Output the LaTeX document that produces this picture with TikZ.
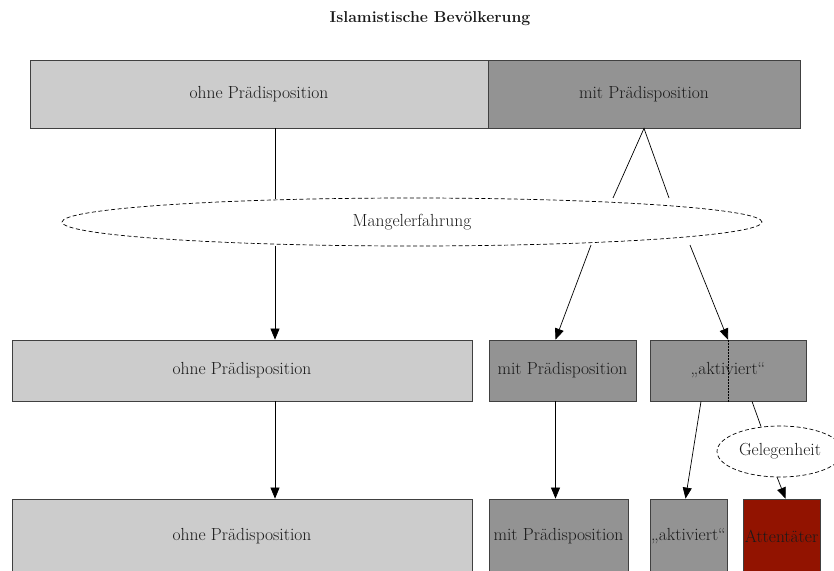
\documentclass[tikz,border=0pt]{standalone}
\usetikzlibrary{shapes.geometric,arrows.meta}
\definecolor{lgray}{HTML}{CCCCCC}
\definecolor{dgray}{HTML}{939393}
\definecolor{dred}{HTML}{921300}
\definecolor{bord}{HTML}{404040}
\definecolor{txt}{HTML}{1A1A1A}
\tikzset{
  box/.style={draw=bord,line width=0.8pt,rectangle,inner sep=0pt,font=\fontsize{17.5}{20}\selectfont,text=txt},
  light/.style={box,fill=lgray},
  dark/.style={box,fill=dgray},
  redbox/.style={box,fill=dred},
  oval/.style={draw,dash pattern=on 4pt off 2.5pt,ellipse,line width=0.7pt,inner sep=0pt,font=\fontsize{17.5}{20}\selectfont,text=txt},
  conn/.style={line width=0.7pt},
  arr/.style={conn,-{Triangle[length=11pt,width=9pt]}}
}
\begin{document}
\begin{tikzpicture}[x=1pt,y=-1pt]
\useasboundingbox (0,0) rectangle (834,570);
\clip (0,0) rectangle (834,570);
\node[font=\fontsize{15.8}{18}\selectfont\bfseries,text=txt] (title) at (430,19) {Islamistische Bevölkerung};
% row 1
\node[light,minimum width=458pt,minimum height=68pt] (ohne1) at (259,94) {ohne Prädisposition};
\node[dark,minimum width=312pt,minimum height=68pt] (mit1) at (644,94) {mit Prädisposition};
% ellipse
\node[oval,minimum width=700pt,minimum height=48pt] (mang) at (412,222) {Mangelerfahrung};
% row 2
\node[light,minimum width=460pt,minimum height=61pt] (ohne2) at (242,370.5) {ohne Prädisposition};
\node[dark,minimum width=147pt,minimum height=61pt] (mit2) at (562.5,370.5) {mit Prädisposition};
\node[dark,minimum width=156pt,minimum height=61pt] (akt2) at (728,370.5) {„aktiviert“};
\draw[densely dotted,line width=0.5pt] (akt2.north) -- (akt2.south);
% Gelegenheit
\node[oval,minimum width=126pt,minimum height=51pt] (gel) at (780,451.5) {Gelegenheit};
% row 3
\node[light,minimum width=460pt,minimum height=74pt] (ohne3) at (242,536) {ohne Prädisposition};
\node[dark,minimum width=139pt,minimum height=74pt] (mit3) at (558.5,536) {mit Prädisposition};
\node[dark,minimum width=77pt,minimum height=74pt] (akt3) at (688.5,536) {„aktiviert“};
\node[redbox,minimum width=77pt,minimum height=74pt] (att) at (781.5,536) {Attentäter};
% connectors
\coordinate (a1) at (275,128);
\coordinate (a2) at (275,199);
\draw[conn] (a1) -- (a2);
\coordinate (t1) at (613,198);
\coordinate (t2) at (669,198);
\draw[conn] (t1) -- (mit1.south) -- (t2);
\coordinate (b1) at (275,246);
\draw[arr] (b1) -- ([xshift=33pt]ohne2.north);
\coordinate (b2) at (591,245);
\draw[arr] (b2) -- ([xshift=-7pt]mit2.north);
\coordinate (b3) at (690,245);
\draw[arr] (b3) -- (akt2.north);
\draw[arr] ([xshift=33pt]ohne2.south) -- ([xshift=33pt]ohne3.north);
\draw[arr] ([xshift=-7pt]mit2.south) -- ([xshift=-3pt]mit3.north);
\draw[arr] ([xshift=-27pt]akt2.south) -- ([xshift=-3pt]akt3.north);
\coordinate (g1) at (761,426.5);
\draw[conn] ([xshift=24pt]akt2.south) -- (g1);
\coordinate (g2) at (777,477);
\draw[arr] (g2) -- ([xshift=4pt]att.north);
\end{tikzpicture}
\end{document}
